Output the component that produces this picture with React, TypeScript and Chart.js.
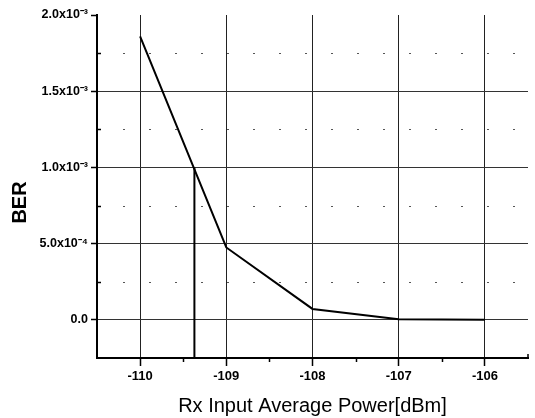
import React, { useEffect, useRef } from "react";
import { Chart, registerables } from "chart.js";

Chart.register(...registerables);

// ---- data ----
const powerDbm = [-110, -109, -108, -107, -106];
const berValues = [1.86e-3, 4.75e-4, 7.2e-5, 4e-6, 1e-6];
const thresholdPower = -109.37;
const thresholdBer = 1.0e-3;

const xTickValues = [-110, -109, -108, -107, -106];
const xMinorTicks = [-109.5, -108.5, -107.5, -106.5];
const yTickValues = [0, 5e-4, 1e-3, 1.5e-3, 2e-3];
const yTickLabels = ["0.0", "5.0x10⁻⁴", "1.0x10⁻³", "1.5x10⁻³", "2.0x10⁻³"];
const yMinorTicks = [2.5e-4, 7.5e-4, 1.25e-3, 1.75e-3];

const xMin = -110.5;
const xMax = -105.5;
const yMin = -2.5e-4;
const yMax = 2.0e-3;

const xTitle = "Rx Input Average Power[dBm]";
const yTitle = "BER";

const FONT = "'Liberation Sans', Arial, Helvetica, sans-serif";

const extrasPlugin = {
  id: "extras",
  beforeDatasetsDraw(chart: any) {
    const { ctx, chartArea } = chart;
    const xs = chart.scales.x;
    const ys = chart.scales.y;
    ctx.save();
    // minor dashed horizontal grid
    ctx.strokeStyle = "#555";
    ctx.lineWidth = 1;
    ctx.setLineDash([2, 24]);
    yMinorTicks.forEach((v) => {
      const py = Math.round(ys.getPixelForValue(v)) + 0.5;
      ctx.beginPath();
      ctx.moveTo(chartArea.left, py);
      ctx.lineTo(chartArea.right, py);
      ctx.stroke();
    });
    ctx.setLineDash([]);
    ctx.strokeStyle = "#000";
    ctx.lineWidth = 1.5;
    // minor y ticks (inward)
    yMinorTicks.forEach((v) => {
      const py = Math.round(ys.getPixelForValue(v)) + 0.5;
      ctx.beginPath();
      ctx.moveTo(chartArea.left, py);
      ctx.lineTo(chartArea.left + 4, py);
      ctx.stroke();
    });
    // minor x ticks (outward)
    xMinorTicks.forEach((v) => {
      const px = Math.round(xs.getPixelForValue(v)) + 0.5;
      ctx.beginPath();
      ctx.moveTo(px, chartArea.bottom);
      ctx.lineTo(px, chartArea.bottom + 4);
      ctx.stroke();
    });
    // end tick at the right of x axis
    const pr = Math.round(xs.getPixelForValue(xMax));
    ctx.beginPath();
    ctx.moveTo(pr, chartArea.bottom);
    ctx.lineTo(pr, chartArea.bottom - 4);
    ctx.stroke();
    ctx.restore();
  },
  afterDraw(chart: any) {
    const { ctx, chartArea } = chart;
    ctx.save();
    ctx.fillStyle = "#000";
    ctx.font = `bold 20px ${FONT}`;
    ctx.textAlign = "center";
    ctx.textBaseline = "middle";
    ctx.translate(20, (chartArea.top + chartArea.bottom) / 2 + 16);
    ctx.rotate(-Math.PI / 2);
    ctx.fillText(yTitle, 0, 0);
    ctx.restore();
  },
};

export default function App() {
  const canvasRef = useRef<HTMLCanvasElement | null>(null);

  useEffect(() => {
    const canvas = canvasRef.current;
    if (!canvas) return;
    const chart = new Chart(canvas, {
      type: "line",
      data: {
        datasets: [
          {
            data: powerDbm.map((x, i) => ({ x, y: berValues[i] })),
            borderColor: "#000",
            borderWidth: 2,
            pointRadius: 0,
            fill: false,
            tension: 0,
          },
          {
            data: [
              { x: thresholdPower, y: yMin },
              { x: thresholdPower, y: thresholdBer },
            ],
            borderColor: "#000",
            borderWidth: 2,
            pointRadius: 0,
            fill: false,
          },
        ],
      },
      options: {
        animation: false,
        responsive: false,
        maintainAspectRatio: false,
        layout: { padding: { left: 0, right: 7, top: 15, bottom: 0 } },
        plugins: {
          legend: { display: false },
          tooltip: { enabled: false },
          title: { display: false },
        },
        scales: {
          x: {
            type: "linear",
            min: xMin,
            max: xMax,
            afterBuildTicks: (scale: any) => {
              scale.ticks = xTickValues.map((v) => ({ value: v }));
            },
            afterFit: (scale: any) => {
              scale.height = 60;
            },
            ticks: {
              color: "#000",
              padding: 3,
              maxRotation: 0,
              font: { family: FONT, size: 13, weight: "bold" },
              callback: (v: any) => String(v),
            },
            grid: {
              color: "#222",
              lineWidth: 1,
              drawTicks: true,
              tickLength: 8,
              tickColor: "#000",
              tickWidth: 1.5,
            },
            border: { display: true, color: "#000", width: 2 },
            title: {
              display: true,
              text: xTitle,
              color: "#000",
              font: { family: FONT, size: 20 },
              padding: { top: 0, bottom: 0 },
            },
          },
          y: {
            type: "linear",
            min: yMin,
            max: yMax,
            afterBuildTicks: (scale: any) => {
              scale.ticks = yTickValues.map((v) => ({ value: v }));
            },
            afterFit: (scale: any) => {
              scale.width = 97;
            },
            ticks: {
              color: "#000",
              padding: 3,
              font: { family: FONT, size: 12.5, weight: "bold" },
              callback: (_v: any, i: number) => yTickLabels[i],
            },
            grid: {
              color: (c: any) =>
                c.tick && Math.abs(c.tick.value - yMax) < 1e-9 ? "rgba(0,0,0,0)" : "#333",
              lineWidth: 1,
              drawTicks: true,
              tickLength: 6,
              tickColor: "#000",
              tickWidth: 1.5,
            },
            border: { display: true, color: "#000", width: 2 },
            title: { display: false },
          },
        },
      },
      plugins: [extrasPlugin],
    });
    return () => chart.destroy();
  }, []);

  return (
    <div style={{ position: "fixed", left: 0, top: 0, width: 535, height: 418, background: "#fff" }}>
      <canvas ref={canvasRef} width={535} height={418} style={{ display: "block" }} />
    </div>
  );
}
